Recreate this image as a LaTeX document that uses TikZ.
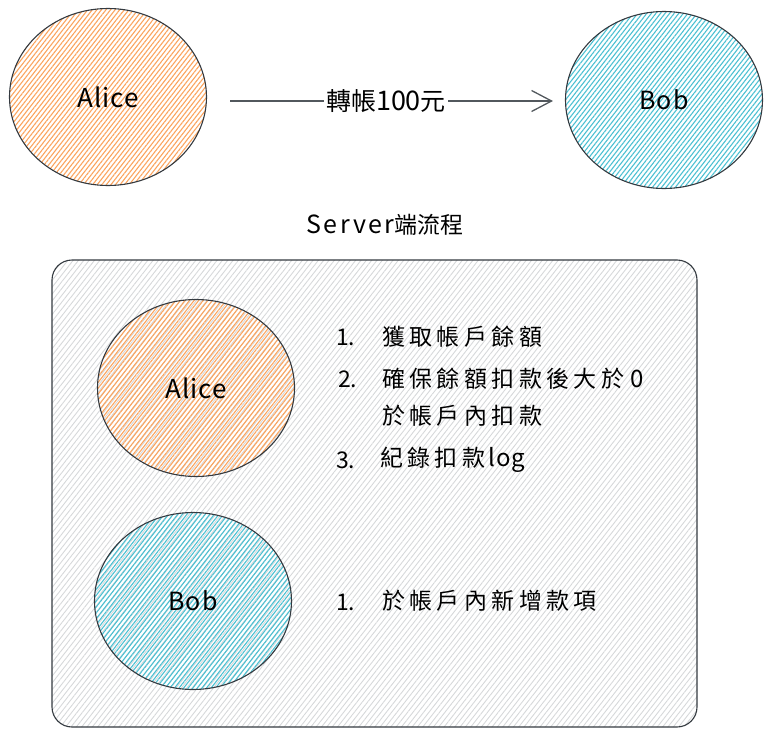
\documentclass[tikz,border=0pt]{standalone}
\usepackage{fontspec}
\setmainfont{Noto Sans CJK TC}
\usetikzlibrary{shapes.geometric,arrows.meta,patterns.meta}
\definecolor{inkc}{HTML}{343A40}
\definecolor{orangeh}{HTML}{FBA45E}
\definecolor{blueh}{HTML}{4CC0D2}
\definecolor{grayh}{HTML}{D6D8DA}
\newcommand{\latinpart}[1]{{\fontsize{24}{26}\selectfont\addfontfeature{LetterSpace=4}#1}}
\tikzset{
  person/.style={ellipse, draw=inkc, line width=1.1pt, minimum width=197pt, minimum height=177pt, inner sep=0pt},
  alicefill/.style={pattern={Lines[angle=52,distance=3.6pt,line width=1.1pt]}, pattern color=orangeh},
  bobfill/.style={pattern={Lines[angle=52,distance=3.6pt,line width=1.1pt]}, pattern color=blueh},
  boxfill/.style={pattern={Lines[angle=52,distance=4.2pt,line width=0.9pt]}, pattern color=grayh},
  listtext/.style={anchor=west, inner sep=0pt, font=\fontsize{23}{26}\selectfont\addfontfeature{LetterSpace=19}},
  numtext/.style={anchor=west, inner sep=0pt, font=\fontsize{23}{26}\selectfont},
  flow/.style={draw=inkc!85, line width=1.3pt, -{Straight Barb[length=20pt,width=21pt,line width=1.3pt]}}
}
\begin{document}
\begin{tikzpicture}[x=1pt,y=-1pt]
\useasboundingbox (0,0) rectangle (771,736);
% server box
\node[draw=inkc, line width=1.1pt, rounded corners=20pt, boxfill, minimum width=645pt, minimum height=467pt, inner sep=0pt] (box) at (374.5,493.5) {};
% top row
\node[person, alicefill, font=\fontsize{26}{28}\selectfont\addfontfeature{LetterSpace=4}] (alice) at (108,97) {Alice};
\node[person, bobfill, font=\fontsize{25}{28}\selectfont\addfontfeature{LetterSpace=4}] (bob) at (664,100) {Bob};
\draw[flow, shorten <=23pt, shorten >=12pt] (alice.east |- 0,101) -- node[fill=white, inner sep=2pt, font=\fontsize{25}{27}\selectfont] (lbl) {轉帳{\fontsize{27}{27}\selectfont 100}元} (bob.west |- 0,101);
% title
\node[font=\fontsize{23}{25}\selectfont] (title) at (385,225) {{\fontsize{25}{25}\selectfont\addfontfeature{LetterSpace=10}Server}端流程};
% inner nodes
\node[person, alicefill, font=\fontsize{26}{28}\selectfont\addfontfeature{LetterSpace=4}] (alice2) at (196,388) {Alice};
\node[person, bobfill, font=\fontsize{25}{28}\selectfont\addfontfeature{LetterSpace=4}] (bob2) at (193,601) {Bob};
% list
\node[numtext] (n1) at (336,337) {1.};
\node[listtext] (t1) at (382,337) {獲取帳戶餘額};
\node[numtext] (n2) at (338,379) {2.};
\node[listtext] (t2) at (382,379) {確保餘額扣款後大於\hspace{6pt}\latinpart{0}};
\node[listtext] (t2b) at (382,416) {於帳戶內扣款};
\node[numtext] (n3) at (336,460) {3.};
\node[listtext] (t3) at (380,460) {紀錄扣款\hspace{3pt}\latinpart{log}};
\node[numtext] (m1) at (336,602) {1.};
\node[listtext] (u1) at (382,601) {於帳戶內新增款項};
\end{tikzpicture}
\end{document}
